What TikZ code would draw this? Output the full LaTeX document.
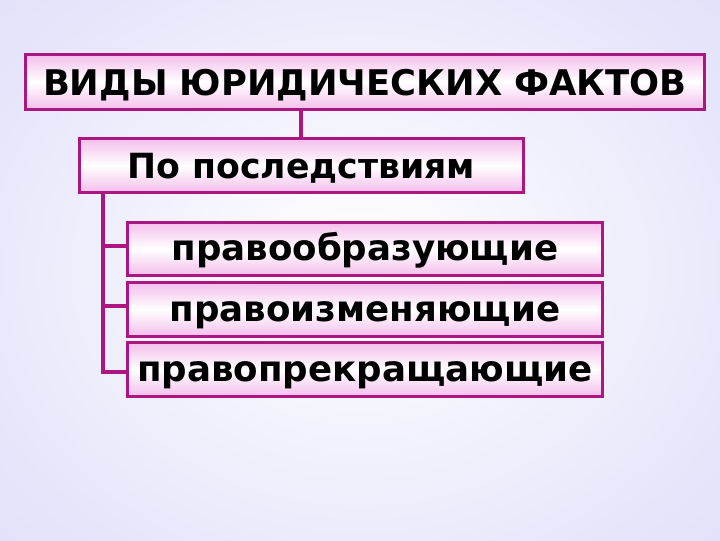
\documentclass[tikz,border=0pt]{standalone}
\usepackage{fontspec}
\setmainfont{DejaVu Sans}
\begin{document}
\begin{tikzpicture}[x=0.75pt,y=-0.75pt,
  bordc/.style={draw={rgb,255:red,172;green,22;blue,128}, line width=2.2pt},
  box/.style={bordc, rectangle, inner sep=0pt, anchor=north west,
    top color={rgb,255:red,244;green,190;blue,236},
    bottom color={rgb,255:red,244;green,190;blue,236},
    middle color=white, font=\bfseries},
  link/.style={draw={rgb,255:red,172;green,22;blue,128}, line width=2.6pt}
]
\definecolor{lav}{RGB}{226,226,250}
\useasboundingbox (0,0) rectangle (720,540);
\shade[inner color=white, outer color=lav] (-120,-120) rectangle (840,660);
\node[box, minimum width=679*0.75pt, minimum height=55*0.75pt,
  text height=22pt, text depth=1.75pt] (top) at (24,53)
  {\fontsize{26.5pt}{26.5pt}\selectfont ВИДЫ ЮРИДИЧЕСКИХ ФАКТОВ};
\node[box, minimum width=444*0.75pt, minimum height=54*0.75pt,
  text height=22pt, text depth=2.5pt] (cons) at (78,137)
  {\fontsize{26pt}{26pt}\selectfont По последствиям};
\node[box, minimum width=475*0.75pt, minimum height=53*0.75pt,
  text height=21pt, text depth=3pt] (c1) at (126,221)
  {\fontsize{26.7pt}{26.7pt}\selectfont правообразующие};
\node[box, minimum width=475*0.75pt, minimum height=54*0.75pt,
  text height=21pt, text depth=3pt] (c2) at (126,281)
  {\fontsize{26.7pt}{26.7pt}\selectfont правоизменяющие};
\node[box, minimum width=475*0.75pt, minimum height=54*0.75pt,
  text height=21pt, text depth=3pt] (c3) at (126,341)
  {\fontsize{26.7pt}{26.7pt}\selectfont правопрекращающие};
\coordinate (trunk) at (103,191);
\draw[link] (top.south -| 301,0) -- (cons.north -| 301,0);
\draw[link] (trunk) -- (103,372) -- (c3.west |- 0,372);
\draw[link] (103,246) -- (c1.west |- 0,246);
\draw[link] (103,306) -- (c2.west |- 0,306);
\end{tikzpicture}
\end{document}
